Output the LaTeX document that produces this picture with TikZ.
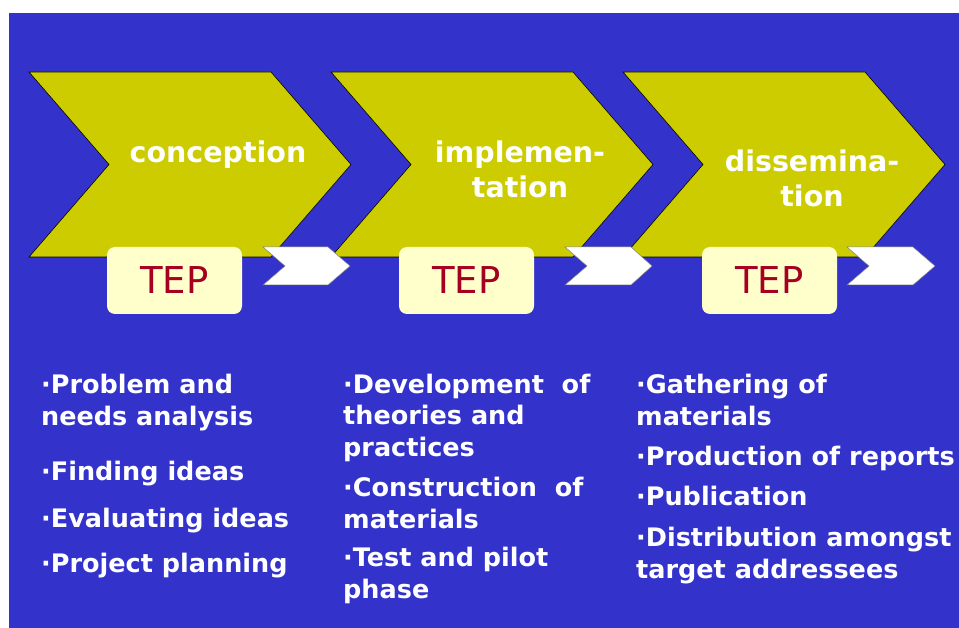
\documentclass[tikz,border=0pt]{standalone}
\usepackage{fontspec}
\setmainfont{DejaVu Sans}
\usetikzlibrary{positioning}
\definecolor{slideblue}{HTML}{3333CC}
\definecolor{phaseolive}{HTML}{CCCC00}
\definecolor{tepcream}{HTML}{FFFFCC}
\definecolor{tepred}{HTML}{A50021}

\tikzset{
  phase/.style={draw=black,line width=0.6pt,fill=phaseolive},
  flag/.style={draw=gray,line width=0.5pt,fill=white},
  tep/.style={rounded corners=8pt,fill=tepcream,text=tepred,inner sep=0pt,
    minimum width=135pt,minimum height=67pt,font=\fontsize{37}{40}\selectfont},
  phasename/.style={text=white,align=center,anchor=base,inner sep=0pt,
    font=\fontsize{28.5}{35}\selectfont\bfseries},
  item/.style={text=white,align=left,anchor=base west,inner sep=0pt,
    font=\fontsize{25.5}{31.5}\selectfont\bfseries}
}

\begin{document}
\begin{tikzpicture}[x=1pt,y=-1pt]
\useasboundingbox (0,0) rectangle (959,628);
\fill[slideblue] (9,13) rectangle (959,628);

% the three phases
\draw[phase] (29,72) -- ++(242,0) -- ++(80,92.5) -- ++(-80,92.5) -- ++(-242,0) -- ++(80,-92.5) -- cycle;
\draw[phase] (331,72) -- ++(242,0) -- ++(80,92.5) -- ++(-80,92.5) -- ++(-242,0) -- ++(80,-92.5) -- cycle;
\draw[phase] (623,72) -- ++(242,0) -- ++(80,92.5) -- ++(-80,92.5) -- ++(-242,0) -- ++(80,-92.5) -- cycle;

% base anchor sits on the last line
\node[phasename] (conception) at (218,163) {conception};
\node[phasename] (implementation) at (520,198) {implemen-\\tation};
\node[phasename] (dissemination) at (812,207) {dissemina-\\tion};

% TEP boxes
\node[tep] (tep1) at (174.5,280.5) {TEP};
\node[tep] (tep2) at (466.5,280.5) {TEP};
\node[tep] (tep3) at (769.5,280.5) {TEP};

% small white arrows
\draw[flag] (263,247) -- ++(65,0) -- ++(22,19) -- ++(-22,19) -- ++(-65,0) -- ++(22,-19) -- cycle;
\draw[flag] (565,247) -- ++(66,0) -- ++(21,19) -- ++(-21,19) -- ++(-66,0) -- ++(22,-19) -- cycle;
\draw[flag] (847,247) -- ++(66,0) -- ++(22,19) -- ++(-22,19) -- ++(-66,0) -- ++(22,-19) -- cycle;

% conception items
\node[item] (problem) at (41,425) {·Problem and\\needs analysis};
\node[item] (finding) at (41,480) {·Finding ideas};
\node[item] (evaluating) at (41,527) {·Evaluating ideas};
\node[item] (planning) at (41,572) {·Project planning};

% implementation items
\node[item] (development) at (343,456) {·Development\ \ of\\theories and\\practices};
\node[item] (construction) at (343,528) {·Construction\ \ of\\materials};
\node[item] (pilot) at (343,598) {·Test and pilot\\phase};

% dissemination items
\node[item] (gathering) at (636,425) {·Gathering of\\materials};
\node[item] (production) at (636,465) {·Production of reports};
\node[item] (publication) at (636,505) {·Publication};
\node[item] (distribution) at (636,578) {·Distribution amongst\\target addressees};
\end{tikzpicture}
\end{document}
